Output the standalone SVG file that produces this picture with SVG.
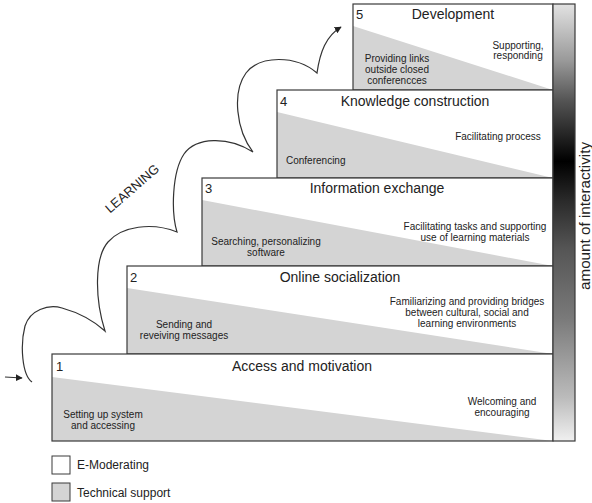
<svg xmlns="http://www.w3.org/2000/svg" width="592" height="503" viewBox="0 0 592 503">
<style>
  .bg { fill: #ffffff; stroke: none; }
  .tech { fill: #d4d4d4; stroke: none; }
  .frame { fill: none; stroke: #3a3a3a; stroke-width: 1.2; }
  text { font-family: "Liberation Sans", Arial, sans-serif; fill: #222222; }
  .num { font-size: 13px; }
  .title { font-size: 14px; text-anchor: middle; }
  .body { font-size: 10px; text-anchor: middle; }
  .bodyl { font-size: 10px; }
  .axis { font-size: 14px; text-anchor: middle; }
  .legend { font-size: 12px; }
  .curve { fill: none; stroke: #333333; stroke-width: 1.2; }
</style>
<defs>
  <linearGradient id="interact" x1="0" y1="0" x2="0" y2="1">
    <stop offset="0" stop-color="#e2e2e2"/>
    <stop offset="0.13" stop-color="#999999"/>
    <stop offset="0.22" stop-color="#555555"/>
    <stop offset="0.36" stop-color="#000000"/>
    <stop offset="0.45" stop-color="#2a2a2a"/>
    <stop offset="0.56" stop-color="#555555"/>
    <stop offset="0.72" stop-color="#7a7a7a"/>
    <stop offset="0.9" stop-color="#bbbbbb"/>
    <stop offset="1" stop-color="#f0f0f0"/>
  </linearGradient>
  <marker id="arrow" viewBox="0 0 10 10" refX="9" refY="5" markerWidth="7" markerHeight="7" markerUnits="userSpaceOnUse" orient="auto">
    <path d="M0,0 L10,5 L0,10 z" fill="#222222"/>
  </marker>
</defs>

<g id="step5">
  <rect class="bg" x="353" y="4" width="200" height="86"/>
  <polygon class="tech" points="353,26 553,90 353,90"/>
  <rect class="frame" x="353" y="4" width="200" height="86"/>
  <text class="num" x="356" y="19">5</text>
  <text class="title" x="453" y="19">Development</text>
  <text class="body" x="397" y="62">Providing links</text>
  <text class="body" x="397" y="73">outside closed</text>
  <text class="body" x="397" y="84">conferencces</text>
  <text class="body" x="518" y="49">Supporting,</text>
  <text class="body" x="518" y="59">responding</text>
</g>

<g id="step4">
  <rect class="bg" x="277" y="90" width="276" height="88"/>
  <polygon class="tech" points="277,112 553,178 277,178"/>
  <rect class="frame" x="277" y="90" width="276" height="88"/>
  <text class="num" x="280" y="106">4</text>
  <text class="title" x="415" y="106">Knowledge construction</text>
  <text class="body" x="498" y="140">Facilitating process</text>
  <text class="bodyl" x="286" y="164">Conferencing</text>
</g>

<g id="step3">
  <rect class="bg" x="202" y="178" width="351" height="88"/>
  <polygon class="tech" points="202,200 553,266 202,266"/>
  <rect class="frame" x="202" y="178" width="351" height="88"/>
  <text class="num" x="205" y="193">3</text>
  <text class="title" x="377" y="193">Information exchange</text>
  <text class="body" x="475" y="230">Facilitating tasks and supporting</text>
  <text class="body" x="475" y="241">use of learning materials</text>
  <text class="body" x="266" y="245">Searching, personalizing</text>
  <text class="body" x="266" y="256">software</text>
</g>

<g id="step2">
  <rect class="bg" x="127" y="266" width="426" height="88"/>
  <polygon class="tech" points="127,288 553,354 127,354"/>
  <rect class="frame" x="127" y="266" width="426" height="88"/>
  <text class="num" x="130" y="282">2</text>
  <text class="title" x="340" y="282">Online socialization</text>
  <text class="body" x="467" y="305">Familiarizing and providing bridges</text>
  <text class="body" x="467" y="316">between cultural, social and</text>
  <text class="body" x="467" y="327">learning environments</text>
  <text class="body" x="184" y="328">Sending and</text>
  <text class="body" x="184" y="339">reveiving messages</text>
</g>

<g id="step1">
  <rect class="bg" x="52" y="354" width="501" height="87"/>
  <polygon class="tech" points="52,377 553,441 52,441"/>
  <rect class="frame" x="52" y="354" width="501" height="87"/>
  <text class="num" x="56" y="371">1</text>
  <text class="title" x="302" y="371">Access and motivation</text>
  <text class="body" x="103" y="418">Setting up system</text>
  <text class="body" x="103" y="429">and accessing</text>
  <text class="body" x="502" y="405">Welcoming and</text>
  <text class="body" x="502" y="416">encouraging</text>
</g>

<g id="interactivity">
  <rect x="553" y="4" width="22" height="437" fill="url(#interact)" stroke="#3a3a3a" stroke-width="1.2"/>
  <text class="axis" transform="translate(590,216) rotate(-90)" textLength="148" lengthAdjust="spacingAndGlyphs">amount of interactivity</text>
</g>

<g id="legend">
  <rect x="52" y="456" width="18" height="18" fill="#ffffff" stroke="#3a3a3a" stroke-width="1"/>
  <text class="legend" x="77" y="469">E-Moderating</text>
  <rect x="52" y="483" width="18" height="18" fill="#d4d4d4" stroke="#3a3a3a" stroke-width="1"/>
  <text class="legend" x="77" y="497">Technical support</text>
</g>

<g id="connectors">
  <path class="curve" marker-end="url(#arrow)" d="M32,382 C 22,375 20,345 25,326 C 30,310 48,304 62,308 C 80,313 95,322 105,331 C 95,300 94,258 108,242 C 122,226 152,222 177,232 C 171,212 172,172 184,154 C 196,137 228,136 253,152 C 236,130 232,92 246,73 C 260,55 296,55 317,73 C 320,52 326,36 341,27"/>
  <line class="curve" x1="5" y1="377" x2="22" y2="378" marker-end="url(#arrow)"/>
  <text transform="translate(135,192) rotate(-41)" font-size="13" text-anchor="middle">LEARNING</text>
</g>
</svg>
